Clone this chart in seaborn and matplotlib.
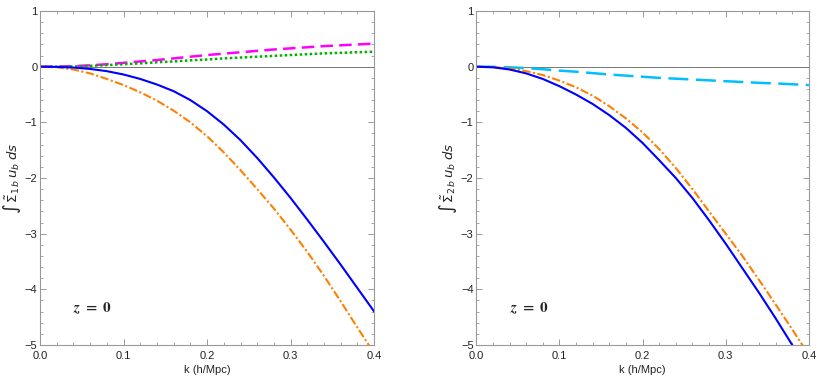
import seaborn as sns
import matplotlib.pyplot as plt
from matplotlib.ticker import MultipleLocator

# k grid (h/Mpc)
k = [0.00, 0.02, 0.04, 0.06, 0.08, 0.10, 0.12, 0.14, 0.16, 0.18, 0.20,
     0.22, 0.24, 0.26, 0.28, 0.30, 0.32, 0.34, 0.36, 0.38, 0.40]

# left panel: Sigma_1b
left_blue = [0, -0.003, -0.015, -0.04, -0.08, -0.14, -0.22, -0.32, -0.44, -0.60, -0.80,
             -1.04, -1.32, -1.64, -1.99, -2.36, -2.75, -3.15, -3.56, -3.98, -4.40]
left_orange = [0, -0.01, -0.05, -0.12, -0.22, -0.33, -0.46, -0.61, -0.79, -1.00, -1.25,
               -1.54, -1.86, -2.20, -2.55, -2.93, -3.33, -3.76, -4.22, -4.69, -5.15]
left_magenta = [0, 0.002, 0.01, 0.025, 0.045, 0.07, 0.095, 0.12, 0.15, 0.18, 0.21,
                0.235, 0.26, 0.285, 0.31, 0.33, 0.35, 0.37, 0.385, 0.40, 0.415]
left_green = [0, 0.0, 0.005, 0.015, 0.03, 0.045, 0.06, 0.08, 0.095, 0.115, 0.13,
              0.15, 0.165, 0.18, 0.195, 0.21, 0.225, 0.24, 0.25, 0.26, 0.27]

# right panel: Sigma_2b
right_blue = [0, -0.01, -0.05, -0.12, -0.22, -0.35, -0.50, -0.67, -0.87, -1.10, -1.37,
              -1.68, -2.00, -2.36, -2.76, -3.18, -3.62, -4.06, -4.52, -5.00, -5.50]
right_orange = [0, -0.005, -0.03, -0.08, -0.15, -0.25, -0.37, -0.52, -0.71, -0.93, -1.18,
                -1.48, -1.82, -2.20, -2.60, -3.00, -3.40, -3.83, -4.27, -4.72, -5.18]
right_cyan = [0, -0.002, -0.01, -0.025, -0.045, -0.07, -0.09, -0.115, -0.14, -0.16, -0.18,
              -0.20, -0.215, -0.23, -0.245, -0.26, -0.275, -0.29, -0.30, -0.315, -0.33]

sns.set_style("ticks")
plt.rcParams['font.family'] = ['Liberation Sans', 'DejaVu Sans']
plt.rcParams['mathtext.fontset'] = 'dejavusans'

fig = plt.figure(figsize=(8.17, 3.82), dpi=100)
ax1 = fig.add_axes([0.049, 0.097, 0.409, 0.874])
ax2 = fig.add_axes([0.583, 0.097, 0.407, 0.874])

gray = '#999999'

def style_axis(ax, ylabel):
    ax.axhline(0, color='#777777', lw=0.7, zorder=1)
    ax.set_xlim(0, 0.4)
    ax.set_ylim(-5, 1)
    ax.xaxis.set_major_locator(MultipleLocator(0.1))
    ax.xaxis.set_minor_locator(MultipleLocator(0.02))
    ax.yaxis.set_major_locator(MultipleLocator(1))
    ax.yaxis.set_minor_locator(MultipleLocator(0.2))
    ax.tick_params(which='both', direction='in', top=True, right=True,
                   color=gray, labelsize=8, labelcolor='#222222', pad=2)
    ax.tick_params(axis='x', pad=4)
    ax.tick_params(which='major', length=4, width=0.7)
    ax.tick_params(which='minor', length=2.5, width=0.6)
    for s in ax.spines.values():
        s.set_color(gray)
        s.set_linewidth(0.8)
    ax.set_xlabel('k (h/Mpc)', fontsize=8, color='#222222', labelpad=3)
    ax.set_ylabel(ylabel, fontsize=9.5, color='#222222', labelpad=1)
    ax.text(0.04, -4.35, r'$\mathbfit{z}\ \mathbf{=\ 0}$', fontsize=11, va='center',
            math_fontfamily='stix')

# left panel
sns.lineplot(x=k, y=left_magenta, ax=ax1, color='#ff00ff', lw=1.8, linestyle=(0, (5, 2.5)))
sns.lineplot(x=k, y=left_green, ax=ax1, color='#00b000', lw=1.8, linestyle=(0, (1, 1)))
sns.lineplot(x=k, y=left_orange, ax=ax1, color='#ff8000', lw=1.5, linestyle=(0, (4, 1.2, 1, 1.2)))
sns.lineplot(x=k, y=left_blue, ax=ax1, color='#0000ff', lw=1.5)
style_axis(ax1, r'$\int\,\tilde{\Sigma}_{1\,b}\,u_b\;ds$')

# right panel
sns.lineplot(x=k, y=right_cyan, ax=ax2, color='#00bfff', lw=1.8, linestyle=(0, (8, 3)))
sns.lineplot(x=k, y=right_orange, ax=ax2, color='#ff8000', lw=1.5, linestyle=(0, (4, 1.2, 1, 1.2)))
sns.lineplot(x=k, y=right_blue, ax=ax2, color='#0000ff', lw=1.5)
style_axis(ax2, r'$\int\,\tilde{\Sigma}_{2\,b}\,u_b\;ds$')

fig.savefig('out.png', dpi=100)
